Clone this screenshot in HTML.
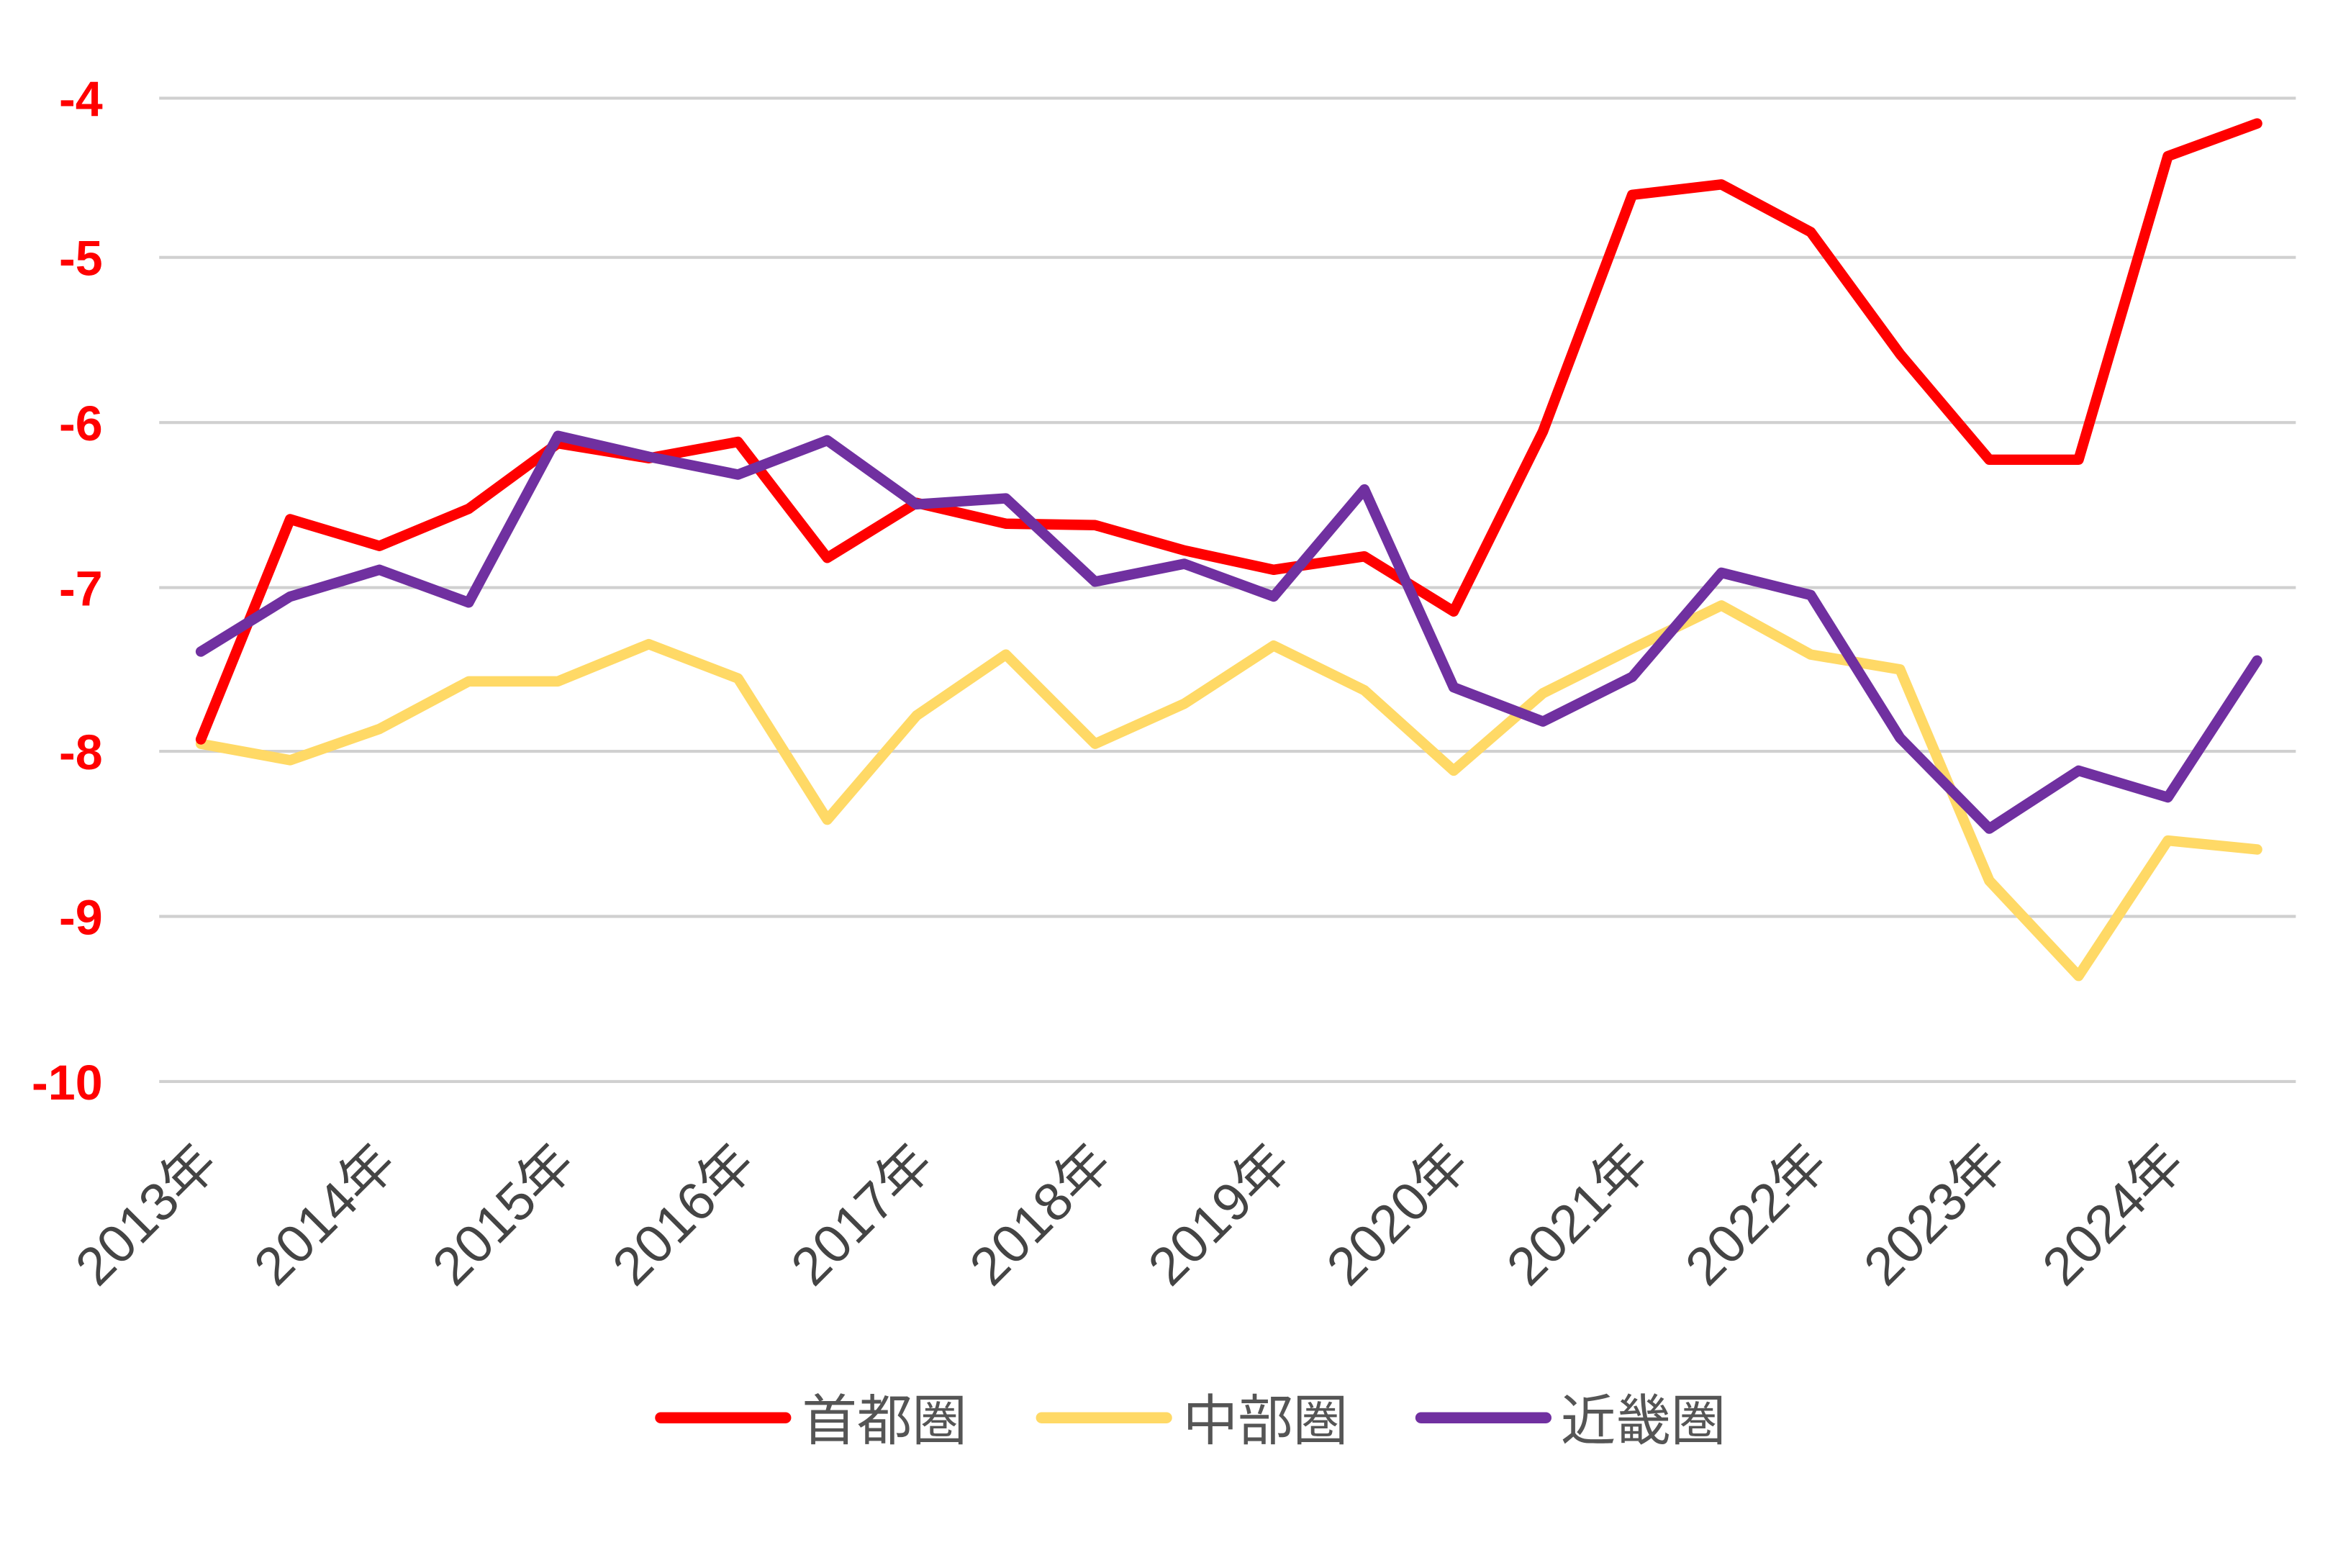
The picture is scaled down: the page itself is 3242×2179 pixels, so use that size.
<!DOCTYPE html>
<html><head><meta charset="utf-8"><style>
html,body{margin:0;padding:0;background:#fff;}
svg{display:block;}
text{font-family:"Liberation Sans","Noto Sans CJK JP",sans-serif;}
</style></head><body>
<svg width="3242" height="2179" viewBox="0 0 1568 1054" preserveAspectRatio="none" xmlns="http://www.w3.org/2000/svg">
<g stroke="#d0d0d0" stroke-width="2">
<line x1="107" y1="66" x2="1543" y2="66"/>
<line x1="107" y1="173" x2="1543" y2="173"/>
<line x1="107" y1="284" x2="1543" y2="284"/>
<line x1="107" y1="395" x2="1543" y2="395"/>
<line x1="107" y1="505" x2="1543" y2="505"/>
<line x1="107" y1="616" x2="1543" y2="616"/>
<line x1="107" y1="727" x2="1543" y2="727"/>
</g>
<g fill="#ff0000" font-size="33" font-weight="bold" text-anchor="end">
<text x="69" y="78">-4</text>
<text x="69" y="185">-5</text>
<text x="69" y="296">-6</text>
<text x="69" y="407">-7</text>
<text x="69" y="517">-8</text>
<text x="69" y="628">-9</text>
<text x="69" y="739">-10</text>
</g>
<g fill="#444" font-size="36" text-anchor="end">
<text transform="translate(148,784) rotate(-45)">2013年</text>
<text transform="translate(268,784) rotate(-45)">2014年</text>
<text transform="translate(388,784) rotate(-45)">2015年</text>
<text transform="translate(509,784) rotate(-45)">2016年</text>
<text transform="translate(629,784) rotate(-45)">2017年</text>
<text transform="translate(749,784) rotate(-45)">2018年</text>
<text transform="translate(869,784) rotate(-45)">2019年</text>
<text transform="translate(989,784) rotate(-45)">2020年</text>
<text transform="translate(1110,784) rotate(-45)">2021年</text>
<text transform="translate(1230,784) rotate(-45)">2022年</text>
<text transform="translate(1350,784) rotate(-45)">2023年</text>
<text transform="translate(1470,784) rotate(-45)">2024年</text>
</g>
<g fill="none" stroke-width="7" stroke-linejoin="round" stroke-linecap="round">
<polyline stroke="#ffd966" points="135,500 195,511 255,490 315,458 375,458 436,433 496,456 556,551 616,481 676,440 736,500 796,473 856,434 917,464 977,518 1037,466 1097,436 1157,407 1217,440 1277,450 1337,592 1397,656 1457,565 1517,571"/>
<polyline stroke="#ff0000" points="135,497 195,349 255,367 315,342 375,298 436,308 496,297 556,375 616,338 676,352 736,353 796,370 856,383 917,374 977,411 1037,290 1097,131 1157,124 1217,156 1277,238 1337,309 1397,309 1457,105 1517,83"/>
<polyline stroke="#7030a0" points="135,438 195,401 255,383 315,405 375,293 436,307 496,319 556,296 616,339 676,335 736,391 796,379 856,401 917,329 977,462 1037,485 1097,455 1157,385 1217,400 1277,496 1337,557 1397,518 1457,536 1517,444"/>
</g>
<g stroke-width="7.5" stroke-linecap="round">
<line x1="444" y1="953" x2="528" y2="953" stroke="#ff0000"/>
<line x1="700" y1="953" x2="784" y2="953" stroke="#ffd966"/>
<line x1="955" y1="953" x2="1039" y2="953" stroke="#7030a0"/>
</g>
<g fill="#555" font-size="37">
<text x="539" y="968">首都圏</text>
<text x="795" y="968">中部圏</text>
<text x="1049" y="968">近畿圏</text>
</g>
</svg>
</body></html>
